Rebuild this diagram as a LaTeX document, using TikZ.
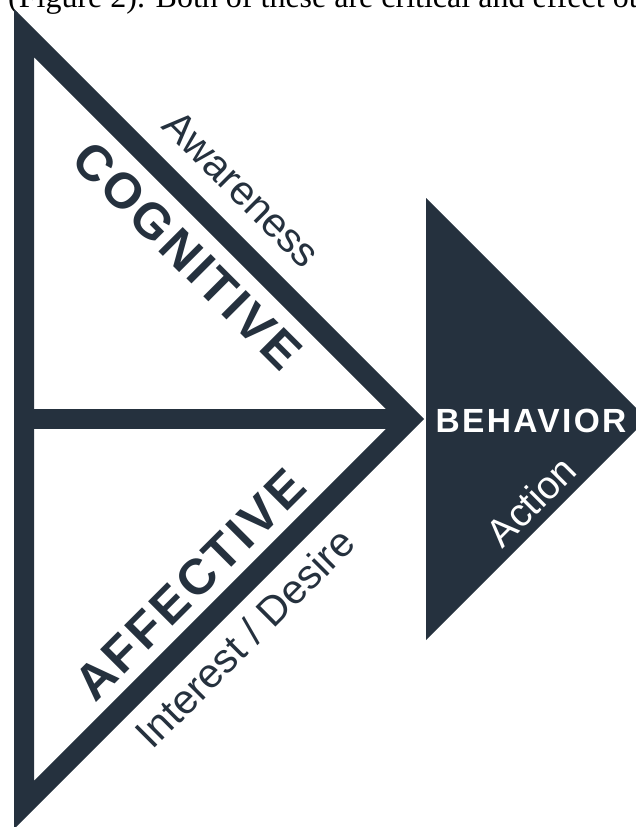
\documentclass[tikz,border=0pt]{standalone}
\usepackage{fontspec}
\setmainfont{Liberation Serif}
\newfontfamily\labelfont{Liberation Sans}
\newfontfamily\stagefont[LetterSpace=6]{Liberation Sans}
\newfontfamily\goalfont[LetterSpace=7]{Liberation Sans}
\definecolor{ink}{HTML}{25313E}

\begin{document}
\begin{tikzpicture}[x=1pt,y=-1pt,
  frame/.style={draw=ink,line width=20pt,line join=miter},
  stage/.style={inner sep=0pt,text=ink,font=\stagefont\bfseries\fontsize{50}{50}\selectfont},
  phase/.style={inner sep=0pt,text=ink,font=\labelfont\fontsize{41}{41}\selectfont}
]
\clip (0,0) rectangle (636,827);

% running text of the page above the figure
\node[anchor=base west,inner sep=0pt,font=\fontsize{32}{33}\selectfont] (caption) at (8,7)
  {(Figure 2). Both of these are critical and effect ot};

% outlined triangle, split into two halves
\coordinate (top) at (24,33);
\coordinate (tip) at (410,419);
\coordinate (foot) at (24,805);
\coordinate (mid) at (24,419);
\draw[frame] (top) -- (tip) -- (foot) -- cycle;
\draw[frame] (mid) -- (tip);

% solid triangle on the right
\fill[ink] (426,198) -- (647,419) -- (426,640) -- cycle;

\node[stage,rotate=-45,anchor=north] (cog) at (200,243) {COGNITIVE};
\node[phase,rotate=-45,anchor=base] (aware) at (232,199) {Awareness};
\node[stage,rotate=45,anchor=base] (aff) at (202,597) {AFFECTIVE};
\node[phase,rotate=45,anchor=north] (desire) at (234,627) {Interest / Desire};

\node[inner sep=0pt,text=white,anchor=base,font=\goalfont\bfseries\fontsize{33.5}{34}\selectfont] (beh) at (531,432) {BEHAVIOR};
\node[inner sep=0pt,text=white,rotate=45,anchor=base,font=\labelfont\fontsize{39}{39}\selectfont] (act) at (541,511) {Action};
\end{tikzpicture}
\end{document}
